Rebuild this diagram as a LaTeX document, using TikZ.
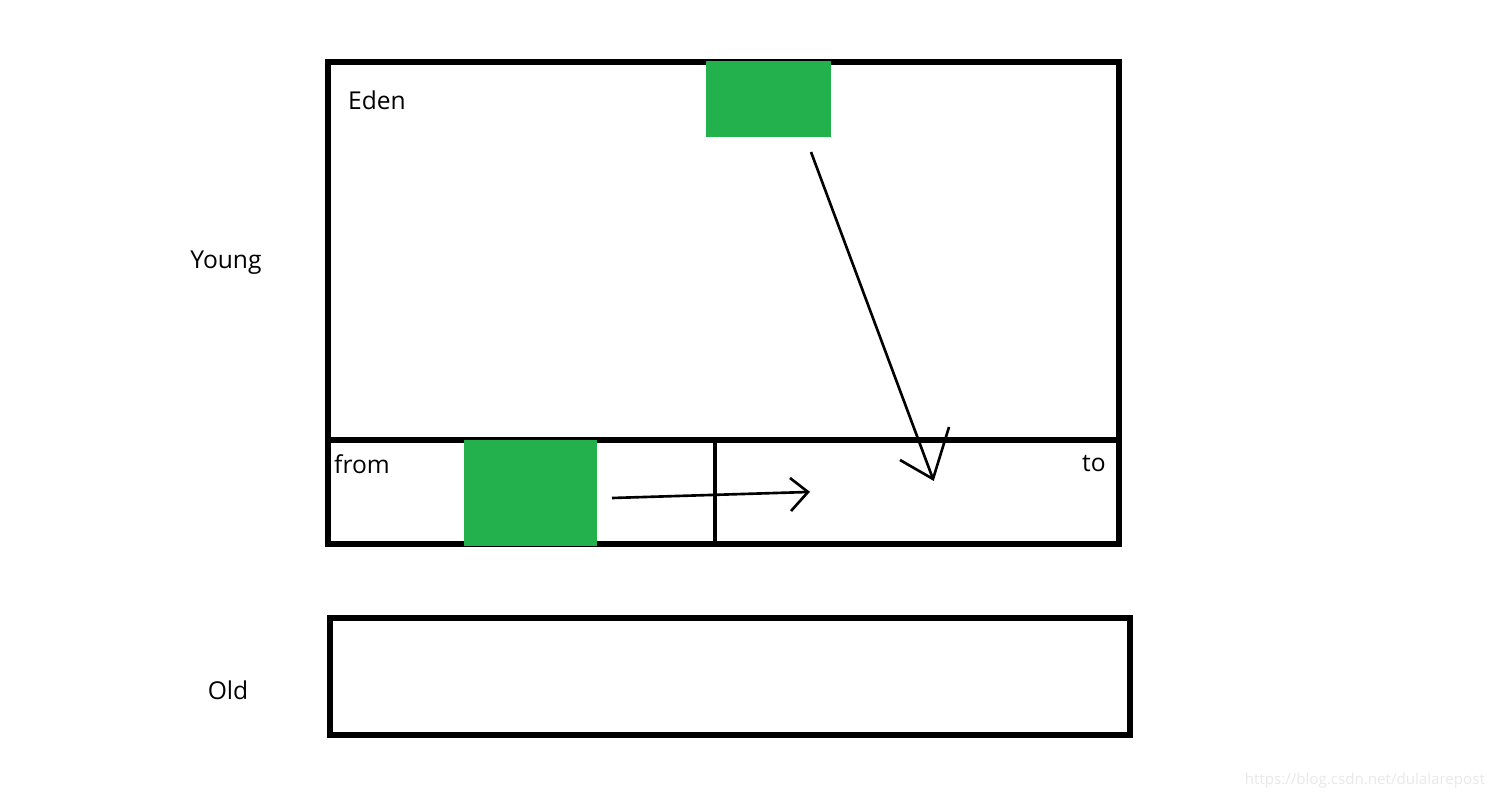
\documentclass[tikz,border=0pt]{standalone}
\usepackage{fontspec}
\setmainfont{Open Sans}
\definecolor{paintgreen}{RGB}{34,177,76}
\begin{document}
\begin{tikzpicture}[x=0.02cm,y=-0.02cm,
    wall/.style={line width=3.1pt},
    inner wall/.style={line width=2.3pt},
    block/.style={fill=paintgreen,inner sep=0pt,anchor=north west},
    label/.style={font=\fontsize{14}{16}\selectfont},
    move/.style={line width=1.5pt}]
  \useasboundingbox (0,0) rectangle (1500,800);
  % young generation
  \draw[wall] (328,62) rectangle (1119,544);
  \draw[wall] (328,440) -- (1121,440);
  \draw[inner wall] (715,440) -- (715,546);
  % old generation
  \draw[wall] (330,618) rectangle (1130,735);
  % objects
  \node[block,minimum width=2.5cm,minimum height=1.52cm] (edenobj) at (706,61) {};
  \node[block,minimum width=2.66cm,minimum height=2.12cm] (fromobj) at (464,440) {};
  % labels
  \node[label] (young) at (226,263) {Young};
  \node[label] (old) at (228,690) {Old};
  \node[label] (eden) at (377,100) {Eden};
  \node[label] (from) at (362,464) {from};
  \node[label] (to) at (1094,464) {to};
  \node[anchor=east,text=gray!18,font=\fontsize{8.6}{10}\selectfont] (mark) at (1491,781) {https://blog.csdn.net/dulalarepost};
  % copy arrows
  \coordinate (edentip) at (933,479);
  \coordinate (edenbarbA) at (949,427);
  \coordinate (edenbarbB) at (900,460);
  \coordinate (fromtip) at (808,492);
  \coordinate (frombarbA) at (790,478);
  \coordinate (frombarbB) at (791,511);
  \draw[move] (811,152) -- (edentip);
  \draw[move] (edenbarbA) -- (edentip) -- (edenbarbB);
  \draw[move] (612,498) -- (fromtip);
  \draw[move] (frombarbA) -- (fromtip) -- (frombarbB);
\end{tikzpicture}
\end{document}
